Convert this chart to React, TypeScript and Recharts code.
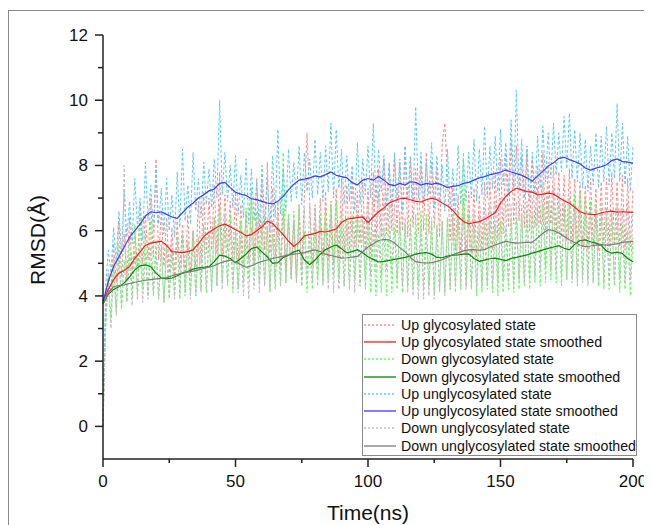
import React from "react";
import { LineChart, Line, XAxis, YAxis } from "recharts";

// raw RMSD traces, one value per ns (t = 0..200)
const upGlyRaw = [
  0, 3.6, 4.8, 4.1, 5.6, 4.4, 6.3, 4.6, 5.9, 4.5,
  6.4, 4.7, 6.0, 4.9, 6.8, 5.0, 6.5, 5.1, 7.0, 5.2,
  8.2, 5.1, 6.6, 4.9, 6.4, 4.7, 6.1, 4.6, 6.3, 4.8,
  6.2, 4.6, 6.5, 4.7, 6.0, 4.9, 6.9, 5.0, 7.2, 5.3,
  7.0, 5.4, 7.4, 5.3, 7.8, 5.2, 7.1, 5.4, 6.9, 5.1,
  7.2, 5.0, 6.8, 4.9, 6.6, 5.1, 7.0, 5.0, 7.6, 5.2,
  7.5, 5.4, 8.1, 5.3, 7.3, 5.2, 6.9, 4.9, 6.7, 4.7,
  6.5, 4.6, 6.3, 4.5, 6.8, 4.8, 7.1, 9.0, 6.9, 4.9,
  6.8, 5.0, 7.0, 4.9, 7.2, 5.1, 6.9, 5.0, 7.3, 5.2,
  7.6, 5.3, 7.4, 5.4, 7.7, 5.5, 7.2, 5.6, 7.5, 5.4,
  7.3, 5.3, 7.8, 5.6, 7.9, 5.8, 8.2, 5.9, 8.0, 6.0,
  8.3, 5.9, 8.1, 6.0, 8.6, 5.8, 8.2, 6.1, 7.9, 5.9,
  8.0, 6.0, 8.4, 5.9, 8.1, 6.1, 7.9, 5.8, 8.7, 9.3,
  7.6, 5.7, 7.4, 5.4, 7.1, 5.3, 7.0, 5.2, 7.2, 5.3,
  7.3, 5.2, 7.1, 5.4, 7.5, 5.5, 7.6, 5.4, 7.8, 5.7,
  8.2, 5.9, 8.4, 6.1, 8.8, 6.2, 8.6, 6.3, 8.3, 6.1,
  8.5, 6.0, 8.2, 6.1, 8.0, 6.2, 8.4, 6.0, 8.1, 6.2,
  8.0, 5.9, 7.8, 5.8, 7.7, 5.7, 7.9, 5.6, 7.6, 5.5,
  7.5, 5.5, 7.4, 5.4, 7.6, 5.5, 7.3, 5.4, 7.5, 5.6,
  7.6, 5.5, 7.8, 5.6, 7.5, 5.5, 7.7, 5.4, 7.6, 5.5,
  7.3,
];

const downGlyRaw = [
  0, 3.0, 4.6, 3.3, 5.2, 3.5, 5.6, 3.6, 5.1, 3.9,
  5.8, 4.0, 6.2, 4.1, 6.5, 4.2, 5.9, 4.0, 6.3, 4.1,
  5.7, 3.9, 5.5, 3.8, 5.6, 3.9, 5.4, 4.0, 5.8, 3.9,
  5.9, 4.0, 5.7, 4.1, 6.0, 4.0, 5.8, 4.2, 6.1, 4.1,
  5.9, 4.2, 6.4, 4.3, 6.8, 4.4, 6.2, 4.3, 6.5, 4.1,
  6.0, 4.2, 6.3, 4.4, 6.7, 4.5, 7.3, 4.6, 6.6, 4.4,
  6.4, 4.3, 6.1, 4.1, 5.9, 4.2, 6.2, 4.3, 8.4, 4.4,
  6.5, 4.5, 6.6, 4.4, 6.8, 4.3, 6.0, 4.1, 5.8, 4.2,
  6.1, 4.3, 6.5, 4.4, 6.7, 4.5, 6.8, 4.6, 6.9, 4.5,
  6.6, 4.3, 6.4, 4.4, 6.5, 4.5, 6.6, 4.3, 6.3, 4.2,
  6.2, 4.1, 6.0, 4.0, 5.9, 4.1, 6.1, 4.0, 6.2, 4.1,
  6.1, 4.2, 6.3, 4.1, 6.2, 4.3, 6.4, 4.2, 6.5, 4.3,
  6.6, 4.2, 6.5, 4.3, 6.4, 4.1, 6.2, 4.2, 6.3, 4.1,
  6.4, 4.2, 6.5, 4.3, 6.6, 4.2, 8.4, 4.3, 6.5, 4.2,
  6.1, 4.0, 6.0, 4.1, 6.2, 4.2, 6.3, 4.1, 6.2, 4.0,
  6.3, 4.1, 6.1, 4.2, 6.3, 4.1, 6.4, 4.2, 6.5, 4.3,
  6.6, 4.2, 6.5, 4.4, 6.7, 4.3, 6.8, 4.4, 6.9, 4.5,
  6.9, 4.4, 6.8, 4.3, 6.7, 4.5, 7.0, 4.6, 7.1, 4.5,
  7.2, 4.6, 7.0, 4.5, 6.9, 4.4, 6.8, 4.3, 6.6, 4.2,
  6.4, 4.2, 6.5, 4.3, 6.3, 4.1, 6.2, 4.2, 6.0, 4.0,
  5.8,
];

const upUnglyRaw = [
  0, 4.3, 5.4, 4.7, 6.1, 5.0, 6.6, 5.3, 7.2, 5.8,
  6.9, 5.6, 7.6, 6.1, 7.0, 5.7, 8.1, 6.3, 7.4, 6.0,
  7.9, 6.2, 7.3, 5.9, 7.6, 6.0, 7.1, 5.8, 7.8, 6.1,
  8.5, 6.3, 7.4, 6.2, 8.4, 6.6, 7.6, 6.4, 8.1, 6.8,
  7.9, 6.7, 8.2, 7.0, 10.0, 7.1, 8.4, 6.9, 8.0, 6.7,
  8.3, 6.5, 7.7, 6.4, 8.2, 6.2, 7.9, 6.3, 7.5, 6.1,
  8.0, 6.2, 7.6, 6.0, 8.3, 6.4, 9.1, 6.5, 7.9, 6.6,
  8.5, 6.9, 8.1, 7.0, 8.6, 6.8, 8.4, 7.2, 8.2, 7.0,
  8.8, 7.1, 8.4, 6.9, 8.6, 7.2, 9.3, 7.0, 9.1, 7.3,
  8.5, 6.8, 8.3, 6.9, 8.0, 6.6, 8.7, 6.8, 8.2, 7.1,
  8.6, 7.0, 9.3, 6.9, 8.5, 7.2, 8.3, 6.8, 8.1, 6.7,
  8.4, 6.9, 8.2, 6.6, 8.6, 7.0, 8.3, 6.9, 9.8, 7.0,
  8.4, 6.8, 8.1, 7.1, 8.7, 6.7, 8.3, 6.9, 8.0, 6.6,
  8.5, 6.7, 7.9, 6.5, 8.6, 6.8, 8.2, 6.9, 8.4, 7.0,
  8.8, 6.9, 8.5, 7.1, 9.2, 7.0, 8.6, 7.3, 8.9, 7.2,
  9.1, 7.4, 8.7, 7.1, 9.4, 7.3, 10.3, 7.2, 8.8, 7.0,
  8.6, 6.9, 8.4, 7.1, 8.9, 7.3, 9.2, 7.5, 9.0, 7.6,
  9.3, 7.7, 9.0, 7.8, 9.5, 7.9, 9.6, 7.6, 9.1, 7.5,
  9.0, 7.3, 8.8, 7.2, 8.6, 7.4, 9.0, 7.3, 8.9, 7.5,
  9.2, 7.4, 9.0, 7.6, 9.9, 7.5, 9.3, 7.4, 8.9, 7.2,
  8.6,
];

const downUnglyRaw = [
  0, 3.2, 4.4, 3.0, 4.9, 3.4, 5.3, 3.6, 8.0, 3.8,
  5.2, 3.7, 5.4, 3.9, 5.6, 3.8, 5.3, 3.9, 5.5, 4.0,
  5.4, 3.9, 5.6, 3.8, 5.5, 4.0, 5.7, 3.9, 5.8, 4.0,
  5.9, 4.1, 5.6, 3.9, 6.0, 4.0, 5.8, 4.1, 6.2, 4.2,
  6.0, 4.1, 6.4, 4.3, 6.8, 4.2, 6.5, 4.4, 6.2, 4.3,
  6.0, 4.1, 5.8, 4.0, 5.9, 3.9, 6.1, 4.2, 6.3, 4.1,
  6.2, 4.3, 6.4, 4.2, 6.3, 4.4, 6.5, 4.3, 6.6, 4.4,
  6.4, 4.5, 6.5, 4.4, 6.6, 4.3, 6.7, 4.5, 6.8, 4.4,
  6.7, 4.5, 6.4, 4.3, 6.3, 4.2, 6.4, 4.1, 6.2, 4.2,
  6.1, 4.3, 6.2, 4.2, 6.3, 4.1, 6.4, 4.3, 6.5, 4.5,
  6.8, 4.6, 7.0, 4.7, 7.2, 4.6, 7.1, 4.8, 6.9, 4.7,
  6.8, 4.5, 6.6, 4.3, 6.4, 4.1, 6.2, 4.0, 6.0, 3.9,
  6.1, 3.9, 6.0, 4.0, 6.2, 3.9, 6.1, 4.1, 6.3, 4.0,
  6.4, 4.2, 6.5, 4.1, 6.6, 4.3, 6.5, 4.2, 6.7, 4.3,
  6.6, 4.2, 6.5, 4.3, 6.7, 4.4, 6.8, 4.3, 6.9, 4.4,
  7.0, 4.5, 6.9, 4.4, 6.8, 4.3, 6.9, 4.5, 6.8, 4.4,
  6.9, 4.5, 7.0, 4.6, 7.3, 4.8, 7.5, 4.9, 7.4, 4.8,
  7.3, 4.7, 7.1, 4.6, 6.9, 4.5, 6.8, 4.4, 6.7, 4.3,
  6.6, 4.4, 6.5, 4.3, 6.7, 4.4, 6.6, 4.5, 6.8, 4.4,
  6.7, 4.5, 6.6, 4.4, 6.8, 4.5, 6.7, 4.4, 6.9, 4.5,
  6.6,
];

// smoothed traces, one value every 2 ns (t = 0..200)
const upGlySmooth = [
  3.85, 4.2, 4.5, 4.7, 4.78, 4.9, 5.15, 5.35, 5.55, 5.62,
  5.65, 5.68, 5.55, 5.36, 5.34, 5.33, 5.36, 5.41, 5.6, 5.82,
  5.95, 6.05, 6.15, 6.2, 6.12, 6.03, 5.95, 5.84, 5.88, 6.0,
  6.12, 6.3, 6.22, 6.05, 5.88, 5.68, 5.52, 5.65, 5.84, 5.88,
  5.92, 5.98, 5.96, 6.0, 6.05, 6.25, 6.35, 6.38, 6.4, 6.42,
  6.25, 6.42, 6.58, 6.7, 6.85, 6.92, 6.98, 7.0, 6.95, 6.9,
  6.88, 6.95, 7.0, 6.95, 6.85, 6.76, 6.62, 6.43, 6.28, 6.21,
  6.25, 6.28, 6.35, 6.45, 6.55, 6.85, 7.05, 7.2, 7.3, 7.25,
  7.2, 7.18, 7.1, 7.12, 7.15, 7.12, 7.02, 6.92, 6.84, 6.72,
  6.58, 6.52, 6.5, 6.49, 6.55, 6.58, 6.6, 6.57, 6.58, 6.57,
  6.56,
];

const downGlySmooth = [
  3.75, 4.05, 4.2, 4.28, 4.4, 4.58, 4.8, 4.92, 4.95, 4.9,
  4.7, 4.55, 4.52, 4.55, 4.62, 4.7, 4.75, 4.82, 4.86, 4.88,
  4.9, 5.05, 5.25, 5.22, 5.15, 5.02, 5.15, 5.28, 5.45, 5.5,
  5.35, 5.2, 5.0, 5.02, 5.18, 5.25, 5.35, 5.4, 5.1, 4.96,
  5.1, 5.28, 5.42, 5.5, 5.56, 5.45, 5.32, 5.36, 5.42, 5.32,
  5.2, 5.12, 5.04, 5.06, 5.09, 5.12, 5.15, 5.18, 5.22, 5.28,
  5.31, 5.33, 5.28, 5.18, 5.17, 5.22, 5.25, 5.26, 5.28, 5.29,
  5.15, 5.06, 5.1, 5.14, 5.16, 5.12, 5.08, 5.15, 5.18, 5.22,
  5.26, 5.31, 5.36, 5.41, 5.46, 5.5, 5.54, 5.46, 5.41, 5.58,
  5.7, 5.72, 5.66, 5.62, 5.55, 5.38, 5.31, 5.34, 5.3, 5.15,
  5.05,
];

const upUnglySmooth = [
  3.8, 4.45, 4.9, 5.2, 5.5, 5.8, 6.0, 6.2, 6.45, 6.58,
  6.55, 6.58, 6.5, 6.42, 6.38, 6.55, 6.72, 6.85, 7.0, 7.1,
  7.22, 7.28, 7.45, 7.48, 7.32, 7.18, 7.12, 7.08, 6.98, 6.95,
  6.9, 6.85, 6.82, 6.9, 7.05, 7.25, 7.42, 7.55, 7.58, 7.62,
  7.68, 7.65, 7.72, 7.8, 7.7, 7.66, 7.62, 7.48, 7.4, 7.55,
  7.6, 7.55, 7.66, 7.55, 7.42, 7.38, 7.45, 7.4, 7.5, 7.48,
  7.4, 7.45, 7.42, 7.46, 7.4, 7.32, 7.36, 7.38, 7.45, 7.48,
  7.55, 7.62, 7.66, 7.72, 7.75, 7.8, 7.86, 7.8, 7.75, 7.7,
  7.62, 7.52, 7.68, 7.82, 7.98, 8.08, 8.22, 8.25, 8.18, 8.12,
  8.05, 7.92, 7.86, 7.92, 7.96, 8.02, 8.15, 8.2, 8.12, 8.1,
  8.07,
];

const downUnglySmooth = [
  3.75, 4.1, 4.28, 4.32, 4.34, 4.38, 4.42, 4.45, 4.48, 4.5,
  4.52, 4.54, 4.56, 4.62, 4.66, 4.7, 4.73, 4.76, 4.8, 4.84,
  4.88, 4.93, 5.0, 5.06, 5.1, 5.04, 4.96, 4.88, 4.92, 5.0,
  5.06, 5.1, 5.15, 5.18, 5.22, 5.26, 5.28, 5.3, 5.33, 5.38,
  5.41, 5.36, 5.28, 5.24, 5.2, 5.16, 5.17, 5.19, 5.21, 5.35,
  5.5, 5.6, 5.7, 5.73, 5.72, 5.62, 5.48, 5.35, 5.18, 5.05,
  5.02, 5.01, 5.02, 5.06, 5.11, 5.18, 5.26, 5.32, 5.38, 5.41,
  5.42, 5.4, 5.42, 5.5, 5.56, 5.62, 5.67, 5.64, 5.62, 5.63,
  5.64, 5.65, 5.78, 5.92, 6.03, 6.0, 5.93, 5.82, 5.72, 5.64,
  5.56, 5.51, 5.53, 5.56, 5.57, 5.56, 5.57, 5.6, 5.64, 5.66,
  5.67,
];

const xTicks = [0, 25, 50, 75, 100, 125, 150, 175, 200];
const yTicks = [0, 1, 2, 3, 4, 5, 6, 7, 8, 9, 10, 11, 12];

const FONT = "Arial, 'Liberation Sans', sans-serif";
const W = 644;
const H = 517;
const MARGIN = { top: 27, right: 19, left: 55, bottom: 36 };
const Y_AXIS_W = 40;
const X_AXIS_H = 30;
const PLOT_LEFT = MARGIN.left + Y_AXIS_W;
const PLOT_BOTTOM = H - MARGIN.bottom - X_AXIS_H;

const series = [
  { name: "Up glycosylated state", vals: upGlyRaw, step: 1, color: "#ff8a8a", raw: true },
  { name: "Up glycosylated state smoothed", vals: upGlySmooth, step: 2, color: "#ff1a1a", raw: false },
  { name: "Down glycosylated state", vals: downGlyRaw, step: 1, color: "#5cff5c", raw: true },
  { name: "Down glycosylated state smoothed", vals: downGlySmooth, step: 2, color: "#008a00", raw: false },
  { name: "Up unglycosylated state", vals: upUnglyRaw, step: 1, color: "#5cc8ff", raw: true },
  { name: "Up unglycosylated state smoothed", vals: upUnglySmooth, step: 2, color: "#3b3bff", raw: false },
  { name: "Down unglycosylated state", vals: downUnglyRaw, step: 1, color: "#bdbdbd", raw: true },
  { name: "Down unglycosylated state smoothed", vals: downUnglySmooth, step: 2, color: "#7a7a7a", raw: false },
];

function toPoints(vals: number[], step: number) {
  return vals.map((v, i) => ({ t: i * step, v }));
}

function YTick(props: any) {
  const { y, payload } = props;
  const major = payload.value % 2 === 0;
  return (
    <g>
      <line x1={PLOT_LEFT - (major ? 8 : 5)} x2={PLOT_LEFT} y1={y} y2={y} stroke="#222" strokeWidth={1.5} />
      {major && (
        <text x={PLOT_LEFT - 15} y={y} dy={6} textAnchor="end" fontSize={17} fontFamily={FONT} fill="#111">
          {payload.value}
        </text>
      )}
    </g>
  );
}

function XTick(props: any) {
  const { x, payload } = props;
  const major = payload.value % 50 === 0;
  return (
    <g>
      <line x1={x} x2={x} y1={PLOT_BOTTOM} y2={PLOT_BOTTOM + (major ? 8 : 4)} stroke="#222" strokeWidth={1.5} />
      {major && (
        <text x={x} y={PLOT_BOTTOM + 28} textAnchor="middle" fontSize={17} fontFamily={FONT} fill="#111">
          {payload.value}
        </text>
      )}
    </g>
  );
}

function LegendBox() {
  return (
    <div
      style={{
        position: "absolute",
        left: 354,
        top: 306,
        width: 273,
        height: 139,
        border: "1px solid #8a8a8a",
        background: "#fff",
        paddingTop: 1,
        fontFamily: FONT,
        fontSize: 14.2,
        color: "#111",
      }}
    >
      {series.map((s) => (
        <div key={s.name} style={{ display: "flex", alignItems: "center", height: 17.3, whiteSpace: "nowrap" }}>
          <svg width={35} height={6} style={{ flex: "none" }}>
            <line
              x1={1}
              x2={33}
              y1={3}
              y2={3}
              stroke={s.color}
              strokeWidth={1.3}
              strokeDasharray={s.raw ? "2 2" : undefined}
            />
          </svg>
          <span style={{ marginLeft: 3 }}>{s.name}</span>
        </div>
      ))}
    </div>
  );
}

export default function App() {
  const raws = series.filter((s) => s.raw);
  const smooths = series.filter((s) => !s.raw);
  return (
    <div style={{ position: "relative", width: W, height: H, background: "#fff" }}>
      <div
        style={{
          position: "absolute",
          left: 0,
          top: 2,
          width: W,
          height: H - 2,
          borderTop: "1px solid #8a8a8a",
          borderLeft: "1px solid #8a8a8a",
          boxSizing: "border-box",
        }}
      />
      <div style={{ position: "absolute", left: 0, top: 0 }}>
        <LineChart width={W} height={H} margin={MARGIN}>
          <XAxis
            type="number"
            dataKey="t"
            domain={[0, 200]}
            ticks={xTicks}
            interval={0}
            height={X_AXIS_H}
            tick={<XTick />}
            tickLine={false}
            axisLine={{ stroke: "#222", strokeWidth: 1.5 }}
            allowDuplicatedCategory={false}
            label={() => (
              <text x={360} y={512} textAnchor="middle" fontSize={21} fontFamily={FONT} fill="#111">
                Time(ns)
              </text>
            )}
          />
          <YAxis
            type="number"
            domain={[-1, 12]}
            ticks={yTicks}
            interval={0}
            width={Y_AXIS_W}
            tick={<YTick />}
            tickLine={false}
            axisLine={{ stroke: "#222", strokeWidth: 1.5 }}
            allowDataOverflow
            label={() => (
              <text
                x={37}
                y={232}
                transform="rotate(-90 37 232)"
                textAnchor="middle"
                fontSize={21}
                fontFamily={FONT}
                fill="#111"
              >
                RMSD(Å)
              </text>
            )}
          />
          {raws.map((s) => (
            <Line
              key={s.name}
              data={toPoints(s.vals, s.step)}
              dataKey="v"
              name={s.name}
              type="linear"
              stroke={s.color}
              strokeWidth={1}
              strokeDasharray="3 2"
              dot={false}
              activeDot={false}
              isAnimationActive={false}
            />
          ))}
          {smooths.map((s) => (
            <Line
              key={s.name}
              data={toPoints(s.vals, s.step)}
              dataKey="v"
              name={s.name}
              type="linear"
              stroke={s.color}
              strokeWidth={1.2}
              dot={false}
              activeDot={false}
              isAnimationActive={false}
            />
          ))}
        </LineChart>
      </div>
      <LegendBox />
    </div>
  );
}
